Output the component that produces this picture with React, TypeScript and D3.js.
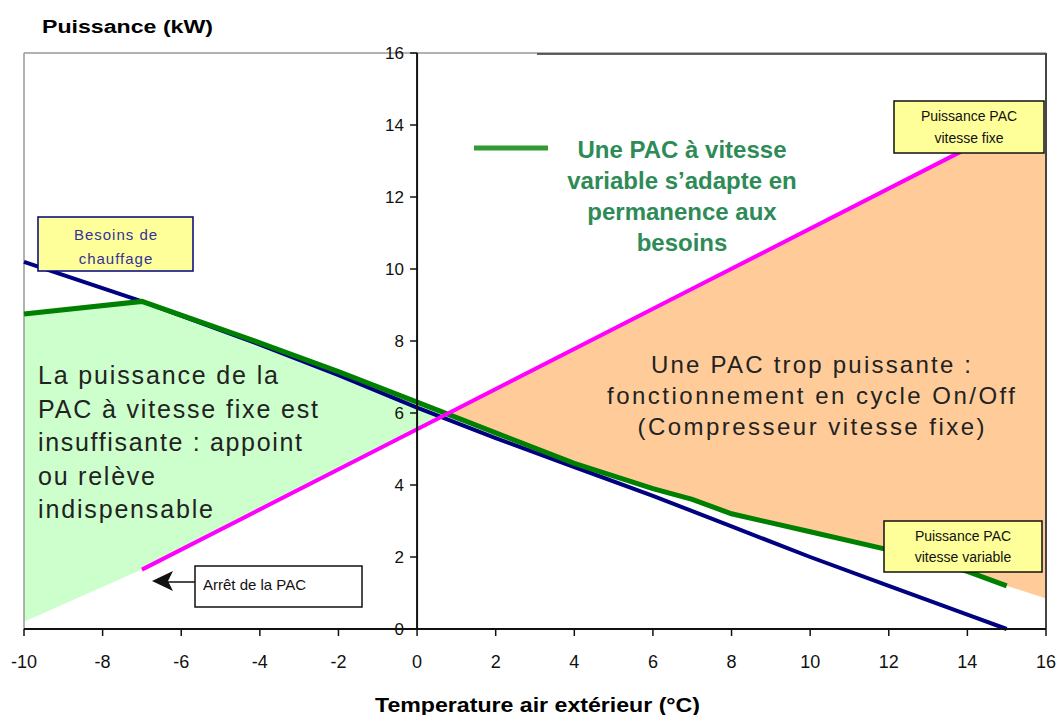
import React from 'react';
import * as d3 from 'd3';

// Puissance PAC vs temperature exterieure
const xTicks = [-10, -8, -6, -4, -2, 0, 2, 4, 6, 8, 10, 12, 14, 16];
const yTicks = [0, 2, 4, 6, 8, 10, 12, 14, 16];

// [temperature, kW]
const besoinsChauffage: [number, number][] = [
  [-10, 10.2], [-7, 9.1], [-4, 7.9], [-2, 7.05], [0, 6.15], [2, 5.3], [4, 4.5],
  [6, 3.7], [8, 2.85], [10, 2.0], [12, 1.2], [14, 0.4], [15, 0],
];
const pacVariable: [number, number][] = [
  [-10, 8.75], [-7, 9.1], [-4, 7.95], [-2, 7.15], [0, 6.3], [2, 5.45], [4, 4.6],
  [6, 3.9], [7, 3.6], [8, 3.2], [10, 2.7], [12, 2.2], [14, 1.6], [15, 1.2],
];
const pacFixe: [number, number][] = [[-7, 1.65], [0, 5.55], [7, 9.45], [14, 13.35]];
// bords des zones colorees
const zoneGaucheBas: [number, number][] = [[-10, 0.2], [-7, 1.65]];
const zoneDroiteHaut: [number, number][] = [[16, 13.3]];
const zoneDroiteBas: [number, number][] = [[16, 0.85]];

const texteGauche = ['La puissance de la', 'PAC à vitesse fixe est', 'insuffisante : appoint', 'ou relève', 'indispensable'];
const texteGaucheLen = [240, 280, 264, 117, 175];
const texteDroite = ['Une PAC trop puissante :', 'fonctionnement en cycle On/Off', '(Compresseur vitesse fixe)'];
const texteDroiteLen = [320, 408, 347];
const texteVert = ['Une PAC à vitesse', 'variable s’adapte en', 'permanence aux', 'besoins'];

const W = 1056, H = 715;
const FONT = 'Arial, "Liberation Sans", sans-serif';

function interp(s: [number, number][], t: number) {
  for (let i = 0; i < s.length - 1; i++) {
    const [t0, v0] = s[i], [t1, v1] = s[i + 1];
    if (t >= t0 && t <= t1) return v0 + ((v1 - v0) * (t - t0)) / (t1 - t0);
  }
  return NaN;
}

export default function App() {
  const x = d3.scaleLinear().domain([-10, 16]).range([24, 1046]);
  const y = d3.scaleLinear().domain([0, 16]).range([629, 53]);
  const line = d3.line<[number, number]>().x(d => x(d[0])).y(d => y(d[1]));

  // croisement vitesse fixe / vitesse variable
  let lo = 0, hi = 2;
  for (let k = 0; k < 40; k++) {
    const m = (lo + hi) / 2;
    if (interp(pacVariable, m) > interp(pacFixe, m)) lo = m; else hi = m;
  }
  const tc = (lo + hi) / 2;
  const cross: [number, number] = [tc, interp(pacFixe, tc)];

  const fixeFull = [...zoneGaucheBas, ...pacFixe.slice(1)];
  const zoneVerte: [number, number][] = [
    ...pacVariable.filter(d => d[0] < tc),
    cross,
    ...fixeFull.filter(d => d[0] < tc).reverse(),
  ];
  const zoneOrange: [number, number][] = [
    cross,
    ...pacFixe.filter(d => d[0] > tc),
    ...zoneDroiteHaut,
    ...zoneDroiteBas,
    ...pacVariable.filter(d => d[0] > tc).reverse(),
  ];

  const y0 = y(0);
  const x0 = x(0);

  return (
    <div style={{ position: 'absolute', left: 0, top: 0 }}>
      <svg width={W} height={H} style={{ display: 'block', background: '#fff' }} fontFamily={FONT}>
        {/* zones */}
        <path d={line(zoneVerte) + 'Z'} fill="#ccffcc" />
        <path d={line(zoneOrange) + 'Z'} fill="#ffcc99" />

        {/* cadre */}
        <line x1={x(-10)} x2={x(16)} y1={y(16)} y2={y(16)} stroke="#999" strokeWidth={1.5} />
        <line x1={537} x2={x(16)} y1={y(16) + 1} y2={y(16) + 1} stroke="#333" strokeWidth={1.5} />
        <line x1={x(-10)} x2={x(-10)} y1={y(16)} y2={y0} stroke="#999" strokeWidth={1.5} />
        <line x1={x(16)} x2={x(16)} y1={y(16)} y2={y0} stroke="#444" strokeWidth={2} />

        {/* series */}
        <path d={line(besoinsChauffage) ?? ''} fill="none" stroke="#000080" strokeWidth={4} />
        <path d={line(pacVariable) ?? ''} fill="none" stroke="#008000" strokeWidth={5} />
        <path d={line(pacFixe) ?? ''} fill="none" stroke="#ff00ff" strokeWidth={4} />

        {/* axe x */}
        <line x1={x(-10)} x2={x(16)} y1={y0} y2={y0} stroke="#111" strokeWidth={2} />
        {xTicks.map(t => (
          <g key={'x' + t}>
            <line x1={x(t)} x2={x(t)} y1={y0} y2={y0 + 7} stroke="#111" strokeWidth={1.5} />
            <text x={x(t)} y={668} textAnchor="middle" fontSize={18} fill="#111">{t}</text>
          </g>
        ))}

        {/* axe y */}
        <line x1={x0} x2={x0} y1={y(16)} y2={y0} stroke="#111" strokeWidth={2} />
        {yTicks.map(t => (
          <g key={'y' + t}>
            <line x1={x0 - 7} x2={x0} y1={y(t)} y2={y(t)} stroke="#111" strokeWidth={1.5} />
            <text x={404} y={y(t) + 6} textAnchor="end" fontSize={17} fill="#111">{t}</text>
          </g>
        ))}

        {/* titres */}
        <text x={42} y={33} fontSize={18} fontWeight="bold" textLength={171} lengthAdjust="spacingAndGlyphs">Puissance (kW)</text>
        <text x={375} y={712} fontSize={21} fontWeight="bold" textLength={325} lengthAdjust="spacingAndGlyphs">Temperature air extérieur (°C)</text>

        {/* legende vitesse variable */}
        <line x1={474} x2={548} y1={148} y2={148} stroke="#339933" strokeWidth={5} />
        {texteVert.map((s, i) => (
          <text key={s} x={682} y={158 + i * 31} textAnchor="middle" fontSize={24} fontWeight="bold" fill="#2e8b57">{s}</text>
        ))}

        {/* texte zone verte */}
        {texteGauche.map((s, i) => (
          <text key={s} x={38} y={384 + i * 33.5} fontSize={25} fill="#222"
            textLength={texteGaucheLen[i]} lengthAdjust="spacing">{s}</text>
        ))}

        {/* texte zone orange */}
        {texteDroite.map((s, i) => (
          <text key={s} x={811} y={373 + i * 31} textAnchor="middle" fontSize={24} fill="#222"
            textLength={texteDroiteLen[i]} lengthAdjust="spacing">{s}</text>
        ))}

        {/* etiquettes */}
        <rect x={38} y={217} width={155} height={54} fill="#ffff99" stroke="#000080" strokeWidth={1.5} />
        <text x={116} y={240} textAnchor="middle" fontSize={15} fill="#333399" letterSpacing={1}>Besoins de</text>
        <text x={116} y={264} textAnchor="middle" fontSize={15} fill="#333399" letterSpacing={1}>chauffage</text>

        <rect x={894} y={101} width={150} height={52} fill="#ffff99" stroke="#111" strokeWidth={1.5} />
        <text x={969} y={121} textAnchor="middle" fontSize={14} fill="#111">Puissance PAC</text>
        <text x={969} y={143} textAnchor="middle" fontSize={14} fill="#111">vitesse fixe</text>

        <rect x={884} y={521} width={158} height={51} fill="#ffff99" stroke="#111" strokeWidth={1.5} />
        <text x={963} y={541} textAnchor="middle" fontSize={14} fill="#111">Puissance PAC</text>
        <text x={963} y={562} textAnchor="middle" fontSize={14} fill="#111">vitesse variable</text>

        <rect x={195} y={566} width={167} height={41} fill="#fff" stroke="#111" strokeWidth={1.5} />
        <text x={203} y={590} fontSize={15} fill="#111">Arrêt de la PAC</text>
        <line x1={195} x2={168} y1={582} y2={582} stroke="#111" strokeWidth={1.5} />
        <path d="M152,581 L173,571 L168,581 L173,591 Z" fill="#111" />
      </svg>
    </div>
  );
}
